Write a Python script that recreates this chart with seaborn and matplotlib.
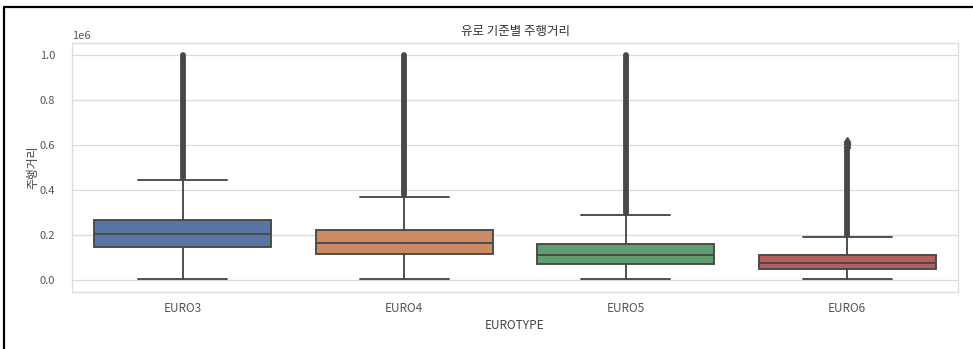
import matplotlib
matplotlib.use("Agg")
import matplotlib.pyplot as plt
from matplotlib.lines import Line2D
import seaborn as sns

# Mileage distribution per emission standard (km)
categories = ["EURO3", "EURO4", "EURO5", "EURO6"]
whisker_low = [3000, 3000, 3000, 3000]
q1 = [147000, 117000, 71000, 48000]
median = [206000, 166000, 111000, 77000]
q3 = [267000, 221000, 160000, 111000]
whisker_high = [443000, 368000, 288000, 191000]
# dense band of outliers above each upper whisker
outlier_low = [452000, 377000, 297000, 200000]
outlier_high = [1000000, 1000000, 1000000, 580000]
# isolated outliers at the top of the EURO6 band
euro6_top_outliers = [592000, 603000, 614000]

sns.set_theme(style="whitegrid")
plt.rcParams["font.family"] = ["Noto Sans CJK KR", "DejaVu Sans"]

fig = plt.figure(figsize=(9.73, 3.49), dpi=100)
ax = fig.add_axes([0.074, 0.1642, 0.9106, 0.7126])

palette = [sns.desaturate(c, 0.75) for c in sns.color_palette("deep", len(categories))]
line_gray = "#484848"

stats = []
for i, name in enumerate(categories):
    stats.append(dict(label=name, whislo=whisker_low[i], q1=q1[i], med=median[i],
                      q3=q3[i], whishi=whisker_high[i], fliers=[]))

positions = list(range(len(categories)))
bp = ax.bxp(stats, positions=positions, widths=0.8, patch_artist=True,
            showfliers=False, manage_ticks=False,
            boxprops=dict(edgecolor=line_gray, linewidth=1.35),
            medianprops=dict(color=line_gray, linewidth=1.35),
            whiskerprops=dict(color=line_gray, linewidth=1.35),
            capprops=dict(color=line_gray, linewidth=1.35))
for patch, col in zip(bp["boxes"], palette):
    patch.set_facecolor(col)

# outlier bands drawn as thick stacked-marker columns
ax.vlines(positions, outlier_low, outlier_high, colors=line_gray,
          linewidth=4.2, capstyle="round", zorder=3)
ax.plot([3] * len(euro6_top_outliers), euro6_top_outliers, linestyle="none",
        marker="d", markersize=5, color=line_gray, zorder=3)

ax.set_xlim(-0.5, len(categories) - 0.5)
ax.set_xticks(positions)
ax.set_xticklabels(categories)
ax.set_ylim(-52000, 1053000)
ax.set_yticks([0, 200000, 400000, 600000, 800000, 1000000])
ax.grid(axis="x", visible=False)
ax.grid(axis="y", color="#dcdcdc", linewidth=0.9)
for sp in ax.spines.values():
    sp.set_color("#dddddd")
    sp.set_linewidth(0.9)
ax.tick_params(axis="x", labelsize=8.5, colors="#555555", pad=1.5)
ax.tick_params(axis="y", labelsize=8, colors="#555555", pad=6)
ax.yaxis.get_offset_text().set_fontsize(8)
ax.yaxis.get_offset_text().set_color("#555555")

ax.set_title("유로 기준별 주행거리", fontsize=9, color="#333333")
ax.set_xlabel("EUROTYPE", fontsize=8.5, color="#444444", labelpad=3)
ax.set_ylabel("주행거리", fontsize=8.5, color="#444444", labelpad=0)

# frame lines along the top and left edge of the image
fig.add_artist(Line2D([4 / 973, 1.0], [1 - 7 / 349, 1 - 7 / 349],
                      transform=fig.transFigure, color="black", linewidth=1.6))
fig.add_artist(Line2D([4 / 973, 4 / 973], [0.0, 1 - 7 / 349],
                      transform=fig.transFigure, color="black", linewidth=1.6))

fig.savefig("out.png", dpi=100)
